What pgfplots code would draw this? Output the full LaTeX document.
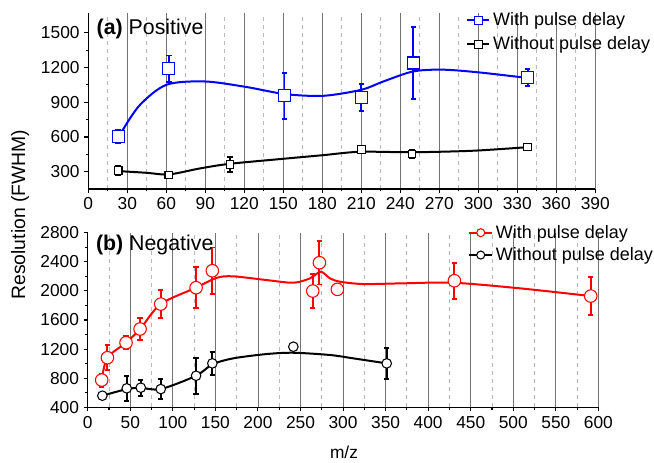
\documentclass[border=0pt]{standalone}
\usepackage{fontspec}
\setmainfont{Liberation Sans}
\usepackage{pgfplots}
\pgfplotsset{compat=1.18}

\definecolor{majgrid}{gray}{0.45}
\definecolor{mingrid}{gray}{0.72}

\pgfplotsset{
  panel/.style={
    scale only axis,
    anchor=south west,
    axis lines=left,
    axis line style={-, line width=1pt},
    tick align=outside,
    major tick length=3pt,
    minor tick length=1.8pt,
    every tick/.style={black, line width=0.8pt},
    xmajorgrids, xminorgrids,
    major x grid style={majgrid, line width=0.6pt},
    minor x grid style={mingrid, dashed, line width=0.6pt},
    minor x tick num=1,
    minor y tick num=1,
    tick label style={font=\fontsize{13}{15}\selectfont},
    /pgf/number format/assume math mode=true,
    /pgf/number format/1000 sep={},
    legend style={draw=none, fill=none, anchor=north west,
                  font=\fontsize{13.5}{16}\selectfont},
    legend cell align=left,
    clip=false,
  },
  curve/.style={smooth, no marks, line width=1.5pt, forget plot},
  pts/.style={only marks, forget plot,
    mark options={fill=white, line width=0.8pt},
    error bars/y dir=both, error bars/y explicit,
    error bars/error bar style={line width=1.4pt},
    error bars/error mark options={rotate=90, mark size=2pt, line width=1.4pt}},
}

\begin{document}
\begin{tikzpicture}
\path[use as bounding box] (0,0) rectangle (490.5pt,-347.25pt);

% (a) positive mode
\begin{axis}[panel, at={(66.2pt,-141.75pt)}, width=380.25pt, height=131.8pt,
  xmin=0, xmax=390, ymin=150, ymax=1670,
  xtick={0,30,...,390}, ytick={300,600,...,1500},
  legend style={at={(0.736,1.035)}, row sep=2.75pt}]
\addlegendimage{blue, line width=1.5pt, mark=square*, mark options={fill=white, line width=0.8pt, mark size=3pt}}
\addlegendentry{With pulse delay}
\addlegendimage{black, line width=1.5pt, mark=square*, mark options={fill=white, line width=0.8pt, mark size=3pt}}
\addlegendentry{Without pulse delay}

\addplot[curve, blue] coordinates {
  (23,603) (25.7,647) (39.8,878) (60.3,1052) (89.8,1080) (121.8,1032) (151.3,971)
  (180.8,956) (210,1008) (227,1080) (250,1167) (273,1182) (301,1158) (338,1110)};
\addplot[curve, black] coordinates {
  (23,305) (45,290) (62,276) (86,328) (109,368) (152.6,414) (181,443)
  (209,472) (250,468) (296,481) (338,512)};

\addplot[pts, blue, mark=square*, mark size=4.5pt] coordinates {
  (23,603) +- (0,60)
  (62,1190) +- (0,115)
  (151,956) +- (0,200)
  (210,942) +- (0,118)
  (250,1240) +- (0,310)
  (338,1115) +- (0,75)};
\addplot[pts, black, mark=square*, mark size=2.9pt] coordinates {
  (23,309) +- (0,40)
  (62,271) +- (0,25)
  (109,364) +- (0,65)
  (210,494) +- (0,30)
  (249,453) +- (0,35)
  (338,514) +- (0,25)};
\end{axis}

% (b) negative mode
\begin{axis}[panel, at={(65.8pt,-305.5pt)}, width=383pt, height=131pt,
  xmin=0, xmax=600, ymin=400, ymax=2800,
  xtick={0,50,...,600}, ytick={400,800,...,2800},
  legend style={at={(0.737,1.075)}, row sep=1.5pt}]
\addlegendimage{red, line width=1.5pt, mark=*, mark options={fill=white, line width=0.8pt, mark size=3pt}}
\addlegendentry{With pulse delay}
\addlegendimage{black, line width=1.5pt, mark=*, mark options={fill=white, line width=0.8pt, mark size=3pt}}
\addlegendentry{Without pulse delay}

\addplot[curve, red] coordinates {
  (16.4,775) (23.1,1082) (45,1288) (61.5,1476) (85.8,1819) (127.3,2044) (151.6,2180)
  (171,2200) (210,2149) (241.6,2112) (261,2172) (273.8,2263) (284.7,2172) (296.5,2126)
  (324,2094) (370.9,2104) (429.6,2112) (508,2035) (591,1929)};
\addplot[curve, black] coordinates {
  (17.2,560) (45.8,650) (62.3,668) (85.8,651) (127.3,834) (146.4,990) (171,1073)
  (210,1132) (241.6,1150) (284.7,1119) (312,1073) (351.3,1004)};

\addplot[pts, red, mark=*, mark size=4.7pt] coordinates {
  (16.4,775) +- (0,90)
  (23.1,1082) +- (0,170)
  (45,1288) +- (0,90)
  (61.5,1476) +- (0,150)
  (85.8,1819) +- (0,190)
  (127.3,2044) +- (0,280)
  (146.4,2277) +- (0,320)
  (264.4,1998) +- (0,230)
  (272.2,2387) +- (0,300)
  (293.3,2021) +- (0,40)
  (430.8,2139) +- (0,250)
  (591,1929) +- (0,265)};
\addplot[pts, black, mark=*, mark size=3.6pt] coordinates {
  (17.2,560) +- (0,40)
  (45.8,661) +- (0,170)
  (62.3,670) +- (0,110)
  (85.8,651) +- (0,140)
  (127.3,834) +- (0,245)
  (146.4,1004) +- (0,160)
  (241.6,1233) +- (0,30)
  (351.3,1004) +- (0,215)};
\end{axis}

\node[anchor=west, font=\fontsize{16}{18}\selectfont] at (69pt,-21.5pt) {\textbf{(a)} Positive};
\node[anchor=west, font=\fontsize{16}{18}\selectfont] at (68.5pt,-184pt) {\textbf{(b)} Negative};
\node[rotate=90, font=\fontsize{14.5}{17}\selectfont] at (15pt,-161pt) {Resolution (FWHM)};
\node[font=\fontsize{13}{16}\selectfont] at (258pt,-339.5pt) {m/z};
\end{tikzpicture}
\end{document}
